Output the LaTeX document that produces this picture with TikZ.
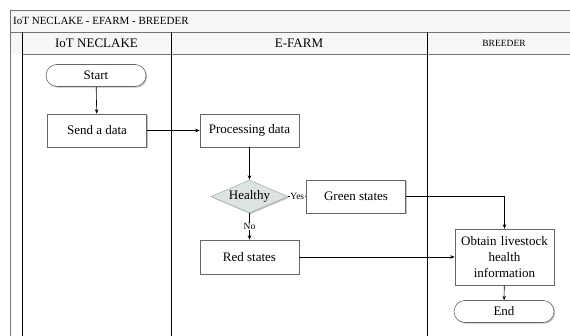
\documentclass[tikz,border=0pt]{standalone}
\usepackage{fontspec}
\setmainfont{Liberation Serif}
\usetikzlibrary{arrows.meta,shapes.geometric,shadows}
\definecolor{decfill}{HTML}{DCE4E1}
\definecolor{decline}{HTML}{A8B2AF}
\begin{document}
\begin{tikzpicture}[x=1pt,y=-1pt,
  font=\fontsize{13}{16}\selectfont,
  frameline/.style={draw=black!55,line width=0.9pt},
  laneline/.style={draw=black,line width=0.7pt},
  boxshadow/.style={drop shadow={shadow xshift=1.2pt,shadow yshift=-1.2pt,fill=black!40,opacity=.6}},
  procbox/.style={draw=black!60,fill=white,line width=0.6pt,minimum width=99pt,minimum height=33pt,boxshadow,align=center,inner sep=2pt},
  termbox/.style={draw=black!60,fill=white,line width=0.6pt,rounded corners=11pt,minimum width=100pt,minimum height=22pt,boxshadow,inner sep=1pt},
  decbox/.style={diamond,aspect=2.33,draw=decline,fill=decfill,line width=0.6pt,minimum width=77pt,minimum height=33pt,inner sep=0pt,boxshadow},
  flow/.style={draw=black,line width=0.6pt,-{Stealth[length=4.5pt,width=3.5pt]}},
  edgelabel/.style={font=\fontsize{9.5}{11}\selectfont,fill=white,inner sep=0.5pt}
]
\useasboundingbox (0,0) rectangle (570,336);

% title bar and lane headers
\fill[black!3] (10,10) rectangle (570,54);
\draw[frameline] (10,336) -- (10,10) -- (570,10);
\draw[frameline] (10,32) -- (570,32);
\draw[frameline] (22,54) -- (570,54);
\node[anchor=west,font=\fontsize{11}{13}\selectfont,inner sep=0pt] (title) at (13,21) {IoT NECLAKE - EFARM - BREEDER};

% lane separators
\draw[laneline] (22,32) -- (22,336);
\draw[laneline] (171,32) -- (171,336);
\draw[laneline] (427,32) -- (427,336);

\node (laneA) at (96.5,43) {IoT NECLAKE};
\node (laneB) at (299,43) {E-FARM};
\node[font=\fontsize{9.5}{11}\selectfont] (laneC) at (504,43) {BREEDER};

% flow nodes
\node[termbox] (start) at (96,75.5) {Start};
\node[procbox] (send) at (97,130.5) {Send a data};
\node[procbox] (proc) at (249.5,130.5) {Processing data};
\node[decbox] (healthy) at (249.5,196.5) {Healthy};
\node[procbox] (green) at (356,196.5) {Green states};
\node[procbox,minimum height=34pt] (red) at (249.5,257) {Red states};
\node[procbox,minimum height=56pt,text width=95pt] (obtain) at (504.5,257) {Obtain livestock\\health\\information};
\node[termbox] (end) at (504,311.5) {End};

% connectors
\draw[flow] (start) -- (send);
\draw[flow] (send) -- (proc);
\draw[flow] (proc) -- (healthy);
\draw[flow] (healthy) -- node[edgelabel] (yes) {Yes} (green);
\draw[flow] (healthy) -- node[edgelabel] (no) {No} (red);
\draw[flow] (green.east) -| (obtain.north);
\draw[flow] (red) -- (obtain);
\draw[flow] (obtain) -- (end);
\end{tikzpicture}
\end{document}
